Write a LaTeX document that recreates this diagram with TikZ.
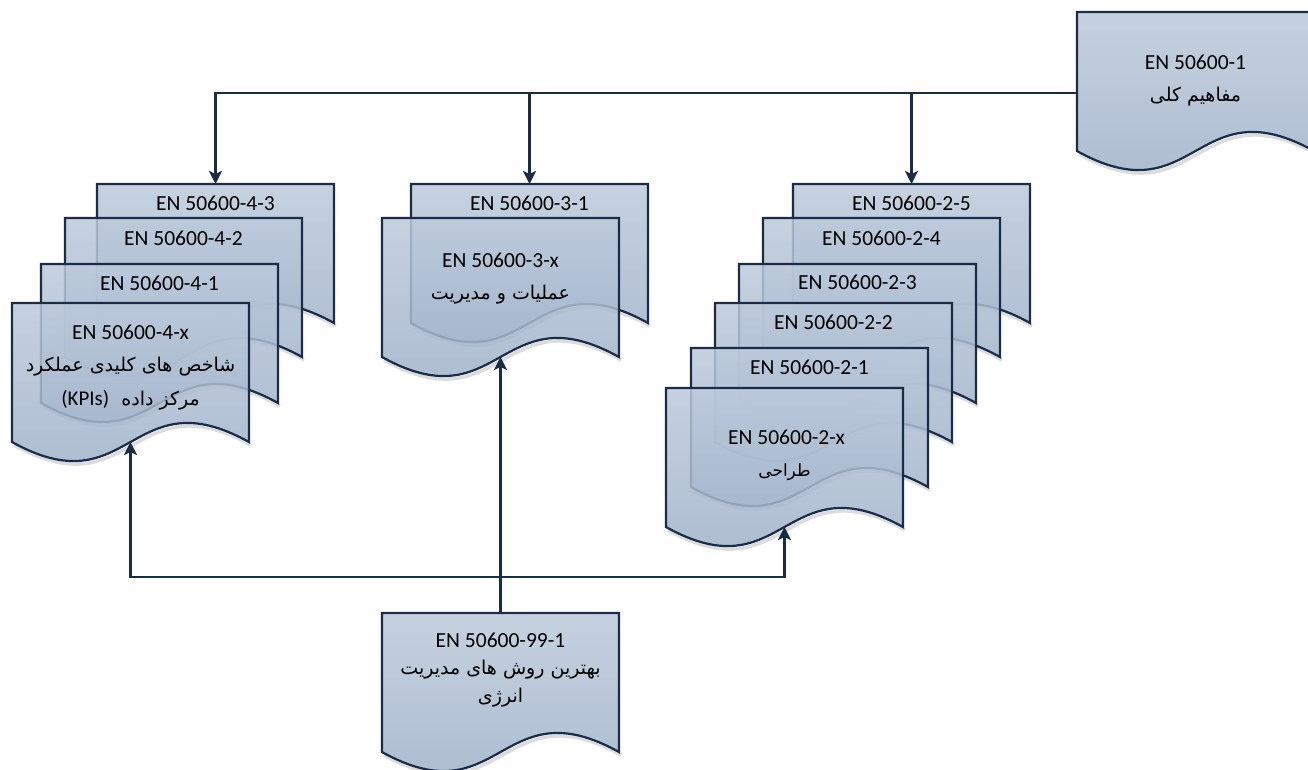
\documentclass[tikz,border=0pt]{standalone}
\usepackage{fontspec}
\setmainfont{Carlito}
\newfontfamily\fa[Script=Arabic]{DejaVu Sans}
\TeXXeTstate=1
\usetikzlibrary{arrows.meta,calc}
\definecolor{navy}{HTML}{1B2C47}
\definecolor{boxtop}{HTML}{BCCADB}
\definecolor{boxbot}{HTML}{98ACC4}
\tikzset{
 docbody/.style={top color=boxtop, bottom color=boxbot, draw=navy, line width=2.2pt, fill opacity=0.85},
 boxnode/.style={minimum width=237pt, minimum height=139pt, inner sep=0pt, outer sep=0pt, anchor=north west},
 en/.style={font=\fontsize{21.5}{24}\selectfont, inner sep=0pt, text=black},
 fatxt/.style={font=\fa\fontsize{19}{22}\selectfont, inner sep=0pt, text=black},
 conn/.style={draw=navy, line width=2.6pt, -{Stealth[length=13pt,width=13pt,inset=3pt]}},
 shadowline/.style={draw=black!45, line width=3.5pt, opacity=0.3}
}
\newcommand\docbox[3]{%
  \draw[shadowline] (#2+239,#3+142) .. controls (#2+120.5,#3+76) and (#2+120.5,#3+208) .. (#2+2,#3+142);
  \path[docbody] (#2,#3) -- (#2+237,#3) -- (#2+237,#3+139) .. controls (#2+118.5,#3+73) and (#2+118.5,#3+205) .. (#2,#3+139) -- cycle;
  \node[boxnode] (#1) at (#2,#3) {};
}
\begin{document}
\begin{tikzpicture}[x=1pt,y=-1pt]
\useasboundingbox (0,0) rectangle (1308,769);
\fill[white] (0,0) rectangle (1308,769);
\clip (0,0) rectangle (1308,769);

% top right
\docbox{n1}{1077}{12}
\node[en] (t1a) at ($(n1.north)+(0,50)$) {EN 50600-1};
\node[fatxt] (t1b) at ($(n1.north)+(0,85)$) {\beginR مفاهیم کلی\endR};

% left stack
\docbox{n43}{97}{184}
\node[en] (t43) at ($(n43.north)+(0,19)$) {EN 50600-4-3};
\docbox{n42}{65}{218}
\node[en] (t42) at ($(n42.north)+(0,20)$) {EN 50600-4-2};
\docbox{n41}{41}{264}
\node[en] (t41) at ($(n41.north)+(0,19)$) {EN 50600-4-1};
\docbox{n4x}{12}{303}
\node[en] (t4xa) at ($(n4x.north)+(0,29)$) {EN 50600-4-x};
\node[fatxt] (t4xb) at ($(n4x.north)+(0,64)$) {\beginR شاخص های کلیدی عملکرد\endR};
\node[fatxt] (t4xc) at ($(n4x.north)+(0,97)$) {{\rmfamily\fontsize{21}{22}\selectfont (KPIs)}\ \ \beginR مرکز داده\endR};

% middle stack
\docbox{n31}{411}{184}
\node[en] (t31) at ($(n31.north)+(0,19)$) {EN 50600-3-1};
\docbox{n3x}{382}{218}
\node[en] (t3xa) at ($(n3x.north)+(0,42)$) {EN 50600-3-x};
\node[fatxt] (t3xb) at ($(n3x.north)+(0,77)$) {\beginR عملیات و مدیریت\endR};

% right stack
\docbox{n25}{793}{184}
\node[en] (t25) at ($(n25.north)+(0,19)$) {EN 50600-2-5};
\docbox{n24}{763}{218}
\node[en] (t24) at ($(n24.north)+(0,20)$) {EN 50600-2-4};
\docbox{n23}{739}{264}
\node[en] (t23) at ($(n23.north)+(0,18)$) {EN 50600-2-3};
\docbox{n22}{715}{303}
\node[en] (t22) at ($(n22.north)+(0,19)$) {EN 50600-2-2};
\docbox{n21}{691}{348}
\node[en] (t21) at ($(n21.north)+(0,19)$) {EN 50600-2-1};
\docbox{n2x}{666}{388}
\node[en] (t2xa) at ($(n2x.north)+(2,49)$) {EN 50600-2-x};
\node[fatxt, font=\fa\fontsize{17}{20}\selectfont] (t2xb) at ($(n2x.north)+(0,84)$) {\beginR طراحی\endR};

% bottom
\docbox{nb}{382}{613}
\node[en] (tba) at ($(nb.north)+(0,27)$) {EN 50600-99-1};
\node[fatxt] (tbb) at ($(nb.north)+(0,57)$) {\beginR بهترین روش های مدیریت\endR};
\node[fatxt] (tbc) at ($(nb.north)+(0,85)$) {\beginR انرژی\endR};

% connectors
\draw[conn] ($(n1.north west)+(0,81)$) -| (n43.north);
\draw[conn] ($(n1.north west)+(0,81)$) -| (n31.north);
\draw[conn] ($(n1.north west)+(0,81)$) -| (n25.north);
\draw[conn] (nb.north) -- (n3x.south);
\draw[conn] (nb.north) -- ++(0,-36) -| (n4x.south);
\draw[conn] (nb.north) -- ++(0,-36) -| (n2x.south);
\end{tikzpicture}
\end{document}
